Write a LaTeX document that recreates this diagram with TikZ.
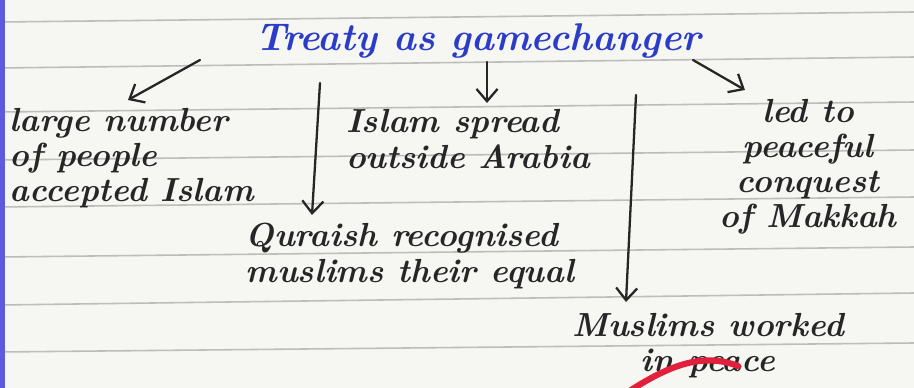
\documentclass[tikz,border=0pt]{standalone}
\usetikzlibrary{arrows.meta}
\definecolor{paper}{HTML}{F6F6F3}
\definecolor{rulegray}{HTML}{BDBDBA}
\definecolor{ink}{HTML}{262626}
\definecolor{blueink}{HTML}{2A3CC8}
\definecolor{marginblue}{HTML}{5B5BE0}
\definecolor{redink}{HTML}{E3203C}
\tikzset{
  hand/.style={font=\fontsize{19}{20}\selectfont\bfseries\itshape, text=ink, inner sep=0pt},
  titletext/.style={font=\fontsize{22}{24}\selectfont\bfseries\itshape, text=blueink, inner sep=0pt},
  arr/.style={draw=ink, line width=1.3pt, line cap=round, -{Straight Barb[length=7pt,width=12pt]}},
  ruling/.style={draw=rulegray, line width=0.9pt},
  redstroke/.style={draw=redink, line width=3.5pt, line cap=round}
}
\begin{document}
\begin{tikzpicture}[x=0.02cm,y=-0.02cm]
\fill[paper] (0,0) rectangle (914,388);
\useasboundingbox (0,0) rectangle (914,388);
\foreach \a/\b in {22/12, 68/57, 112/102, 160/150, 207/197, 257/247, 305/293, 352/343}
  \draw[ruling] (0,\a) -- (914,\b);
\fill[marginblue] (0,0) rectangle (5,388);

\node[titletext] (title) at (478,41) {Treaty as gamechanger};
\node[hand, align=left] (large) at (132,158) {large number\\of people\\accepted Islam};
\node[hand, align=left] (spread) at (468,139) {Islam spread\\outside Arabia};
\node[hand, align=center] (makkah) at (808,167) {led to\\peaceful\\conquest\\of Makkah};
\node[hand, align=left] (quraish) at (410,256) {Quraish recognised\\muslims their equal};
\node[hand, align=center] (worked) at (708,346) {Muslims worked\\in peace};

\coordinate (s1) at (200,60);  \coordinate (e1) at (128,100);
\coordinate (s2) at (320,83);  \coordinate (e2) at (312,215);
\coordinate (s3) at (487,62);  \coordinate (e3) at (487,103);
\coordinate (s4) at (636,95);  \coordinate (e4) at (626,302);
\coordinate (s5) at (693,60);  \coordinate (e5) at (745,90);
\draw[arr] (s1) -- (e1);
\draw[arr] (s2) -- (e2);
\draw[arr] (s3) -- (e3);
\draw[arr] (s4) -- (e4);
\draw[arr] (s5) -- (e5);

\draw[redstroke] (628,392) .. controls (668,366) and (702,352) .. (738,366);
\end{tikzpicture}
\end{document}
